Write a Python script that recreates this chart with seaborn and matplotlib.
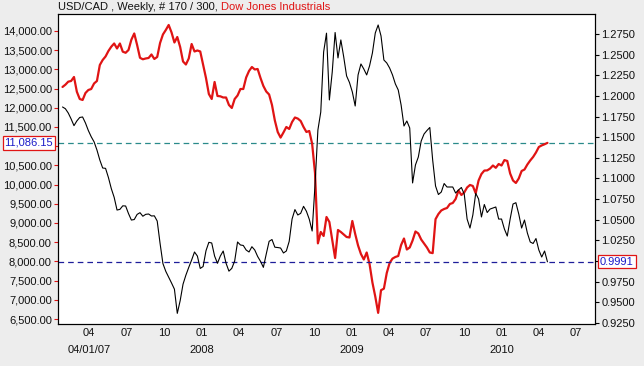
import numpy as np
import pandas as pd
import matplotlib
matplotlib.use('Agg')
import matplotlib.pyplot as plt
import matplotlib.dates as mdates
import matplotlib.transforms as mtransforms
from matplotlib.ticker import FuncFormatter
import seaborn as sns

# weekly closes (170 weeks, last one on 2010-04-23)
first_week = '2007-01-26'
dow_close = [
    12542, 12601, 12680, 12698, 12802, 12417, 12229, 12203, 12385, 12463,
    12489, 12633, 12698, 13114, 13245, 13336, 13479, 13591, 13674, 13544,
    13674, 13461, 13432, 13505, 13773, 13935, 13635, 13302, 13263, 13284,
    13297, 13388, 13271, 13323, 13687, 13909, 14026, 14156, 13961, 13700,
    13843, 13583, 13206, 13127, 13284, 13661, 13466, 13492, 13466, 13127,
    12776, 12359, 12229, 12672, 12307, 12299, 12268, 12268, 12073, 11995,
    12229, 12320, 12489, 12489, 12789, 12958, 13062, 12997, 13010, 12776,
    12568, 12424, 12346, 12073, 11669, 11370, 11224, 11357, 11500, 11448,
    11630, 11747, 11719, 11656, 11500, 11370, 11396, 11060, 10300, 8470,
    8766, 8662, 9156, 9026, 8558, 8089, 8818, 8766, 8700, 8636,
    8623, 9052, 8714, 8414, 8193, 8050, 8232, 7932, 7451, 7084,
    6660, 7250, 7290, 7698, 7958, 8073, 8115, 8141, 8427, 8596,
    8310, 8362, 8544, 8779, 8727, 8570, 8466, 8362, 8232, 8215,
    9100, 9234, 9326, 9365, 9391, 9495, 9521, 9625, 9846, 9729,
    9794, 9925, 9990, 9964, 9773, 10107, 10276, 10365, 10370, 10417,
    10497, 10437, 10536, 10497, 10638, 10615, 10289, 10107, 10042, 10159,
    10354, 10393, 10523, 10628, 10719, 10836, 10979, 11020, 11050, 11086.15,
]
usdcad_close = [
    1.1866, 1.1845, 1.1793, 1.1721, 1.1640, 1.1697, 1.1739, 1.1745, 1.1672, 1.1581,
    1.1506, 1.1444, 1.1345, 1.1224, 1.1127, 1.1123, 1.1012, 1.0878, 1.0772, 1.0618,
    1.0626, 1.0669, 1.0667, 1.0575, 1.0497, 1.0503, 1.0565, 1.0586, 1.0543, 1.0566,
    1.0570, 1.0546, 1.0548, 1.0485, 1.0214, 0.9969, 0.9875, 0.9805, 0.9734, 0.9660,
    0.9367, 0.9520, 0.9720, 0.9830, 0.9924, 1.0013, 1.0110, 1.0061, 0.9911, 0.9934,
    1.0125, 1.0227, 1.0219, 1.0061, 0.9973, 1.0061, 1.0122, 0.9973, 0.9878, 0.9912,
    1.0001, 1.0231, 1.0195, 1.0189, 1.0134, 1.0110, 1.0174, 1.0134, 1.0056, 0.9997,
    0.9924, 1.0085, 1.0239, 1.0261, 1.0168, 1.0164, 1.0158, 1.0098, 1.0122, 1.0239,
    1.0509, 1.0624, 1.0558, 1.0578, 1.0663, 1.0603, 1.0506, 1.0364, 1.0921, 1.1587,
    1.1805, 1.2532, 1.2760, 1.1951, 1.2290, 1.2768, 1.2460, 1.2678, 1.2472, 1.2242,
    1.2163, 1.2048, 1.1878, 1.2254, 1.2387, 1.2326, 1.2254, 1.2363, 1.2520, 1.2762,
    1.2859, 1.2726, 1.2435, 1.2399, 1.2338, 1.2254, 1.2145, 1.2072, 1.1890, 1.1636,
    1.1696, 1.1612, 1.0946, 1.1164, 1.1260, 1.1454, 1.1539, 1.1581, 1.1618, 1.1224,
    1.0909, 1.0806, 1.0836, 1.0939, 1.0897, 1.0897, 1.0897, 1.0824, 1.0861, 1.0891,
    1.0812, 1.0509, 1.0400, 1.0558, 1.0821, 1.0752, 1.0534, 1.0685, 1.0588, 1.0630,
    1.0643, 1.0655, 1.0509, 1.0509, 1.0388, 1.0303, 1.0509, 1.0691, 1.0707, 1.0570,
    1.0400, 1.0497, 1.0340, 1.0231, 1.0213, 1.0273, 1.0134, 1.0049, 1.0122, 0.9991,
]
dow_last = 11086.15
usdcad_last = 0.9991

month_ticks = ['2007-04-01', '2007-07-01', '2007-10-01', '2008-01-01', '2008-04-01',
               '2008-07-01', '2008-10-01', '2009-01-01', '2009-04-01', '2009-07-01',
               '2009-10-01', '2010-01-01', '2010-04-01', '2010-07-01']
month_labels = ['04', '07', '10', '01', '04', '07', '10', '01', '04', '07', '10', '01', '04', '07']
year_ticks = ['2007-04-01', '2008-01-01', '2009-01-01', '2010-01-01']
year_labels = ['04/01/07', '2008', '2009', '2010']

dow_ticks = [6500, 7000, 7500, 8000, 8500, 9000, 9500, 10000, 10500,
             11000, 11500, 12000, 12500, 13000, 13500, 14000]
fx_ticks = [0.925, 0.95, 0.975, 1.0, 1.025, 1.05, 1.075, 1.1, 1.125,
            1.15, 1.175, 1.2, 1.225, 1.25, 1.275]
# these two labels sit under the last-value boxes
dow_hidden = 11000
fx_hidden = 1.0

RED = '#E01414'
TEAL = '#2A8A8A'
NAVY = '#1E1E9A'
BLUE = '#1A1AC8'
BG = '#EDEDED'

sns.set_style('white')
plt.rcParams['font.family'] = ['Liberation Sans', 'DejaVu Sans']
plt.rcParams['font.size'] = 8

df = pd.DataFrame({
    'date': pd.date_range(first_week, periods=len(dow_close), freq='7D'),
    'dow': dow_close,
    'usdcad': usdcad_close,
})

fig = plt.figure(figsize=(6.44, 3.66), dpi=100, facecolor=BG)
ax = fig.add_axes([58 / 644, 42 / 366, 537 / 644, 310 / 366])
ax.set_facecolor('white')
ax2 = ax.twinx()

sns.lineplot(data=df, x='date', y='dow', ax=ax, color=RED, lw=1.6)
sns.lineplot(data=df, x='date', y='usdcad', ax=ax2, color='black', lw=0.8)

ax.axhline(dow_last, color=TEAL, lw=0.9, dashes=(4.5, 3.2), zorder=1)
ax2.axhline(usdcad_last, color=NAVY, lw=0.9, dashes=(4.5, 3.2), zorder=1)

ax.set_xlim(pd.Timestamp('2007-01-15'), pd.Timestamp('2010-08-17'))
ax.set_ylim(6370, 14442)
ax2.set_ylim(0.9238, 1.2992)

# y axes
ax.set_yticks(dow_ticks)
ax.yaxis.set_major_formatter(FuncFormatter(
    lambda v, p: '' if abs(v - dow_hidden) < 1 else f'{v:,.2f}'))
ax.tick_params(axis='y', left=True, color=RED, length=3, width=0.8, pad=1.5,
               labelsize=8, labelcolor='#111111')
ax2.set_yticks(fx_ticks)
ax2.yaxis.set_major_formatter(FuncFormatter(
    lambda v, p: '' if abs(v - fx_hidden) < 1e-6 else f'{v:.4f}'))
ax2.tick_params(axis='y', right=True, color='black', length=3, width=0.8, pad=1.5,
                labelsize=8, labelcolor='#111111')

# x axis: month row plus year row
ax.set_xticks(pd.to_datetime(month_ticks))
ax.set_xticklabels(month_labels)
ax.tick_params(axis='x', length=0, pad=3, labelsize=8, labelcolor='#111111')
trans_x = mtransforms.blended_transform_factory(ax.transData, ax.transAxes)
for d, lab in zip(year_ticks, year_labels):
    ax.text(mdates.date2num(pd.Timestamp(d)), -0.084, lab, transform=trans_x,
            ha='center', va='center', fontsize=8, color='#111111')

for a in (ax, ax2):
    a.set_xlabel('')
    a.set_ylabel('')
    a.grid(False)
    for s in a.spines.values():
        s.set_color('black')
        s.set_linewidth(0.8)

# last-value boxes
trans_l = mtransforms.blended_transform_factory(ax.transAxes, ax.transData)
ax.text(-0.0095, dow_last, f'{dow_last:,.2f}', transform=trans_l, ha='right', va='center',
        fontsize=8, color=BLUE, zorder=10,
        bbox=dict(boxstyle='square,pad=0.15', fc='white', ec=RED, lw=0.9))
trans_r = mtransforms.blended_transform_factory(ax2.transAxes, ax2.transData)
ax2.text(1.0095, usdcad_last, f'{usdcad_last:.4f}', transform=trans_r, ha='left', va='center',
         fontsize=8, color=BLUE, zorder=10,
         bbox=dict(boxstyle='square,pad=0.15', fc='white', ec=RED, lw=0.9))

# title in two colours
t1 = fig.text(58 / 644, 1 - 7 / 366, 'USD/CAD , Weekly, # 170 / 300, ', ha='left', va='center',
              fontsize=8, color='#111111')
fig.canvas.draw()
bb = t1.get_window_extent()
fig.text(bb.x1 / fig.bbox.width, 1 - 7 / 366, 'Dow Jones Industrials', ha='left', va='center',
         fontsize=8, color=RED)

fig.savefig('out.png', dpi=100, facecolor=BG)
